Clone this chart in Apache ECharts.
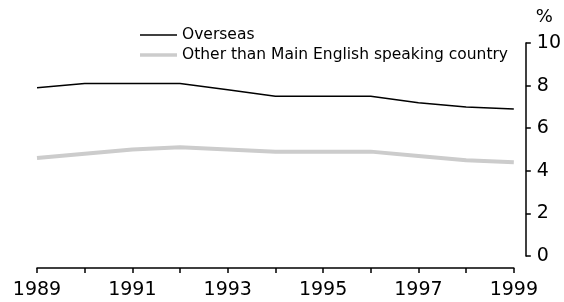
<!DOCTYPE html>
<html>
<head>
<meta charset="utf-8">
<script src="https://cdn.jsdelivr.net/npm/echarts@6/dist/echarts.min.js"></script>
<style>
  html, body { margin: 0; padding: 0; background: #fff; }
  #chart01 { width: 564px; height: 302px; }
</style>
</head>
<body>
<div id="chart01"></div>
<script>
var years = ['1989','1990','1991','1992','1993','1994','1995','1996','1997','1998','1999'];
var overseas = [7.9, 8.1, 8.1, 8.1, 7.8, 7.5, 7.5, 7.5, 7.2, 7.0, 6.9];
var otherThanMesc = [4.6, 4.8, 5.0, 5.1, 5.0, 4.9, 4.9, 4.9, 4.7, 4.5, 4.4];

var chart01 = echarts.init(document.getElementById('chart01'), null, {renderer: 'canvas'});
var font = 'DejaVu Sans';
var legendText = { fontFamily: font, fontSize: 15.5, color: '#000', lineHeight: 16 };

var option_c01 = {
  animation: false,
  textStyle: { fontFamily: font },
  grid: { left: 37, right: 48, top: 43, bottom: 46 },

  // one legend per line so each icon keeps its own thickness
  legend: [
    {
      data: ['Overseas'],
      left: 140, top: 27, padding: 0,
      icon: 'rect', itemWidth: 37, itemHeight: 1.5, itemGap: 6,
      textStyle: legendText
    },
    {
      data: ['Other than Main English speaking country'],
      left: 140, top: 47, padding: 0,
      icon: 'rect', itemWidth: 37, itemHeight: 3.5, itemGap: 6,
      textStyle: legendText
    }
  ],

  xAxis: {
    type: 'category',
    data: years,
    boundaryGap: false,
    offset: 12,
    axisLine: { onZero: false, lineStyle: { color: '#000', width: 1.5 } },
    axisTick: { show: true, length: 5, interval: 0, lineStyle: { color: '#000', width: 1.5 } },
    axisLabel: { interval: 1, color: '#000', fontSize: 19, margin: 13, fontFamily: font },
    splitLine: { show: false }
  },

  yAxis: {
    type: 'value',
    position: 'right',
    min: 0,
    max: 10,
    interval: 2,
    offset: 12,
    name: '%',
    nameLocation: 'end',
    nameGap: 17,
    nameTextStyle: { color: '#000', fontSize: 18, fontFamily: font, align: 'left', padding: [0, 0, 0, 10] },
    axisLine: { show: true, onZero: false, lineStyle: { color: '#000', width: 1.5 } },
    axisTick: { show: true, length: 5, lineStyle: { color: '#000', width: 1.5 } },
    axisLabel: { color: '#000', fontSize: 19, margin: 11, fontFamily: font },
    splitLine: { show: false }
  },

  series: [
    {
      name: 'Overseas',
      type: 'line',
      data: overseas,
      symbol: 'none',
      lineStyle: { color: '#000', width: 1.5 },
      itemStyle: { color: '#000' }
    },
    {
      name: 'Other than Main English speaking country',
      type: 'line',
      data: otherThanMesc,
      symbol: 'none',
      lineStyle: { color: '#cccccc', width: 4 },
      itemStyle: { color: '#cccccc' }
    }
  ]
};

chart01.setOption(option_c01);
</script>
</body>
</html>
